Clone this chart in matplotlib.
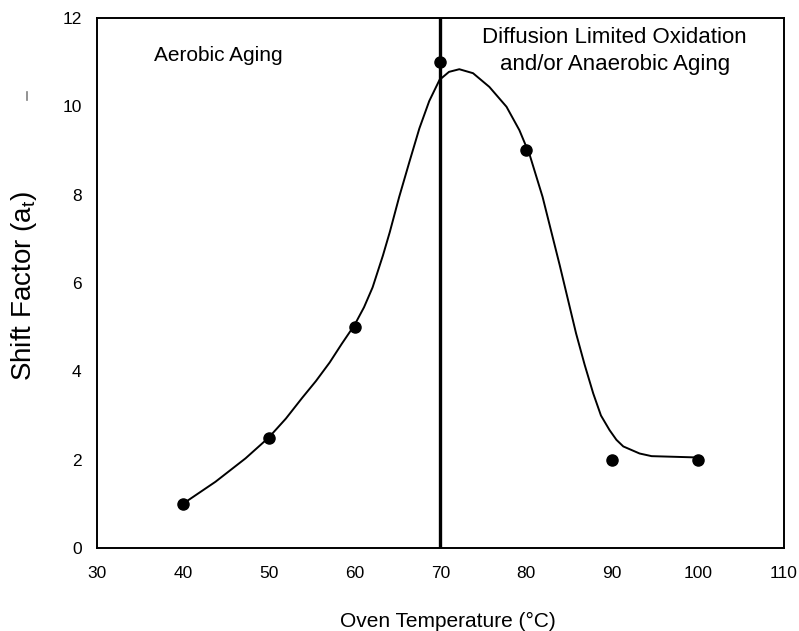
import matplotlib.pyplot as plt
from matplotlib.lines import Line2D

# measured points
temps = [40, 50, 60, 70, 80, 90, 100]
shift = [1.0, 2.5, 5.0, 11.0, 9.0, 2.0, 2.0]

# smooth fit curve
curve_x = [40, 43.8, 47.3, 50, 52, 53.9, 55.5, 57.1, 58.5, 60, 61.1, 62.1, 63.3,
           64.1, 65.2, 66.4, 67.55, 68.7, 69.9, 71, 72.2, 73.8, 75.7, 77.7,
           79.2, 80.4, 81.9, 83.9, 85.8, 86.8, 87.8, 88.7, 89.7, 90.5, 91.3,
           93.2, 94.6, 100]
curve_y = [1.0, 1.5, 2.03, 2.5, 2.93, 3.4, 3.78, 4.2, 4.62, 5.05, 5.45, 5.9, 6.62,
           7.15, 7.95, 8.75, 9.5, 10.12, 10.6, 10.78, 10.84, 10.75, 10.44, 9.99,
           9.46, 8.9, 7.95, 6.4, 4.86, 4.15, 3.5, 3.0, 2.67, 2.45, 2.3,
           2.14, 2.08, 2.05]

x_ticks = [30, 40, 50, 60, 70, 80, 90, 100, 110]
y_ticks = [0, 2, 4, 6, 8, 10, 12]

plt.rcParams['font.family'] = ['Liberation Sans', 'DejaVu Sans']

fig = plt.figure(figsize=(7.99, 6.31), dpi=100)
ax = fig.add_axes([0.1214, 0.1315, 0.8596, 0.84])

ax.plot(curve_x, curve_y, color='black', lw=1.4, solid_joinstyle='round')
ax.plot(temps, shift, 'o', color='black', ms=8)
ax.axvline(70, color='black', lw=2.4)

ax.set_xlim(30, 110)
ax.set_ylim(0, 12)
ax.set_xticks(x_ticks)
ax.set_yticks(y_ticks)
ax.tick_params(length=0, labelsize=12.5)
ax.tick_params(axis='x', pad=13)
ax.tick_params(axis='y', pad=11)
for s in ax.spines.values():
    s.set_linewidth(1.4)

fig.text(448 / 799, 1 - 621 / 631, 'Oven Temperature (°C)', fontsize=15,
         ha='center', va='center')
fig.text(24 / 799, 1 - 286 / 631, r'Shift Factor ($\mathregular{a_t}$)',
         fontsize=20, rotation=90, ha='center', va='center')

ax.text(36.65, 11.16, 'Aerobic Aging', fontsize=15, va='center')
ax.text(90.3, 11.55, 'Diffusion Limited Oxidation', fontsize=16,
        ha='center', va='center')
ax.text(90.3, 10.94, 'and/or Anaerobic Aging', fontsize=16,
        ha='center', va='center')

# stray mark left of the y label
fig.add_artist(Line2D([26.5 / 799, 26.5 / 799], [1 - 92 / 631, 1 - 100 / 631],
                      color='gray', lw=1.2))

fig.savefig('out.png', dpi=100)
